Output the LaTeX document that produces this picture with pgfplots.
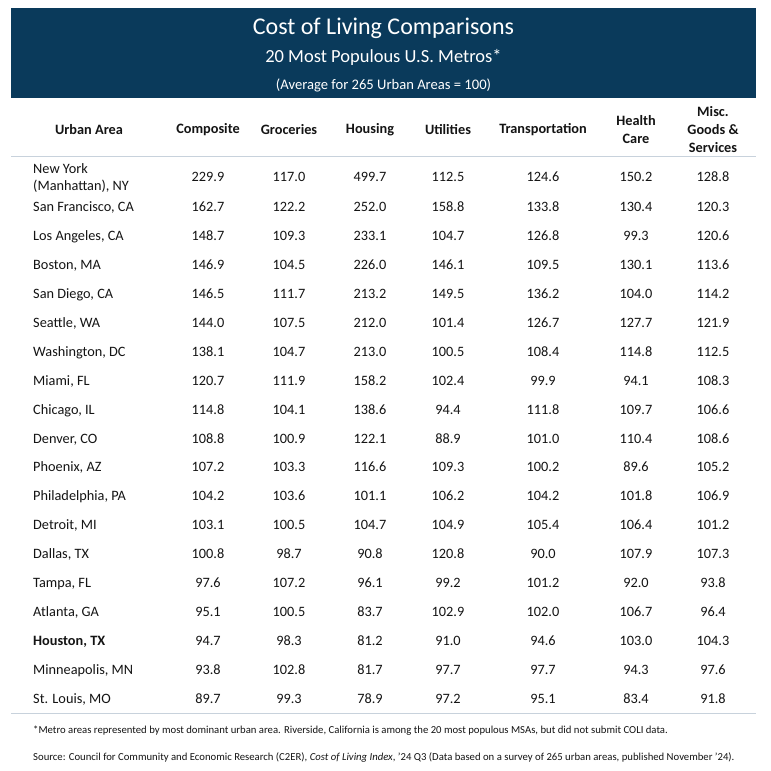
\documentclass[border=0pt]{standalone}
\usepackage{pgfplots}
\pgfplotsset{compat=1.18}
\usepackage{pgfplotstable}
\usepackage{fontspec}
\setmainfont{Carlito}
\definecolor{band}{RGB}{10,58,91}
\definecolor{rule}{RGB}{200,210,220}
\definecolor{txt}{RGB}{20,20,20}

\pgfplotstableread[col sep=semicolon]{
y;comp;groc;hous;util;trans;hc;misc
176.5;229.9;117.0;499.7;112.5;124.6;150.2;128.8
206.5;162.7;122.2;252.0;158.8;133.8;130.4;120.3
235.4;148.7;109.3;233.1;104.7;126.8;99.3;120.6
264.3;146.9;104.5;226.0;146.1;109.5;130.1;113.6
293.2;146.5;111.7;213.2;149.5;136.2;104.0;114.2
322.1;144.0;107.5;212.0;101.4;126.7;127.7;121.9
351.0;138.1;104.7;213.0;100.5;108.4;114.8;112.5
379.9;120.7;111.9;158.2;102.4;99.9;94.1;108.3
408.8;114.8;104.1;138.6;94.4;111.8;109.7;106.6
437.7;108.8;100.9;122.1;88.9;101.0;110.4;108.6
466.6;107.2;103.3;116.6;109.3;100.2;89.6;105.2
495.5;104.2;103.6;101.1;106.2;104.2;101.8;106.9
524.4;103.1;100.5;104.7;104.9;105.4;106.4;101.2
553.3;100.8;98.7;90.8;120.8;90.0;107.9;107.3
582.2;97.6;107.2;96.1;99.2;101.2;92.0;93.8
611.1;95.1;100.5;83.7;102.9;102.0;106.7;96.4
640.0;94.7;98.3;81.2;91.0;94.6;103.0;104.3
668.9;93.8;102.8;81.7;97.7;97.7;94.3;97.6
697.8;89.7;99.3;78.9;97.2;95.1;83.4;91.8
}\coldata

\begin{document}
\begin{tikzpicture}
\begin{axis}[
  width=771pt, height=771pt, scale only axis,
  xmin=0, xmax=771, ymin=0, ymax=771, y dir=reverse,
  hide axis, clip=false,
  every node near coord/.append style={anchor=mid, inner sep=0pt, text=txt, yshift=-3pt,
    font=\fontsize{14.3}{16}\selectfont},
]
\path[fill=white] (axis cs:0,0) rectangle (axis cs:771,771);
\fill[band] (axis cs:11,8) rectangle (axis cs:756,98);
\node[text=white, font=\fontsize{24}{28}\selectfont, anchor=mid] at (axis cs:383.5,32) {Cost of Living Comparisons};
\node[text=white, font=\fontsize{18.5}{21}\selectfont, anchor=mid] at (axis cs:383.5,60) {20 Most Populous U.S. Metros*};
\node[text=white, font=\fontsize{14.6}{16}\selectfont, anchor=mid] at (axis cs:383.5,87) {(Average for 265 Urban Areas = 100)};

% column headers
\begin{scope}[every node/.style={font=\fontsize{14.3}{18}\selectfont\bfseries, text=txt, align=center, inner sep=0pt, yshift=-2pt}]
\node at (axis cs:89,128) {Urban Area};
\node at (axis cs:208,128) {Composite};
\node at (axis cs:289,128) {Groceries};
\node at (axis cs:370,128) {Housing};
\node at (axis cs:448,128) {Utilities};
\node at (axis cs:543,128) {Transportation};
\node at (axis cs:636,128) {Health\\Care};
\node at (axis cs:713,128) {Misc.\\Goods \&\\Services};
\end{scope}

\draw[rule, line width=1pt] (axis cs:11,156) -- (axis cs:756,156);
\draw[rule, line width=1pt] (axis cs:11,713) -- (axis cs:756,713);

% row names
\begin{scope}[every node/.style={font=\fontsize{14.3}{17}\selectfont, text=txt, align=left, inner sep=0pt, anchor=mid west, yshift=-3pt}]
\node at (axis cs:33,168) {New York};
\node at (axis cs:33,185.5) {(Manhattan), NY};
\node at (axis cs:33,206.5) {San Francisco, CA};
\node at (axis cs:33,235.4) {Los Angeles, CA};
\node at (axis cs:33,264.3) {Boston, MA};
\node at (axis cs:33,293.2) {San Diego, CA};
\node at (axis cs:33,322.1) {Seattle, WA};
\node at (axis cs:33,351.0) {Washington, DC};
\node at (axis cs:33,379.9) {Miami, FL};
\node at (axis cs:33,408.8) {Chicago, IL};
\node at (axis cs:33,437.7) {Denver, CO};
\node at (axis cs:33,466.6) {Phoenix, AZ};
\node at (axis cs:33,495.5) {Philadelphia, PA};
\node at (axis cs:33,524.4) {Detroit, MI};
\node at (axis cs:33,553.3) {Dallas, TX};
\node at (axis cs:33,582.2) {Tampa, FL};
\node at (axis cs:33,611.1) {Atlanta, GA};
\node[font=\fontsize{14.3}{17}\selectfont\bfseries] at (axis cs:33,640.0) {Houston, TX};
\node at (axis cs:33,668.9) {Minneapolis, MN};
\node at (axis cs:33,697.8) {St. Louis, MO};
\end{scope}

% values
\addplot[draw=none, mark=none, nodes near coords, point meta=explicit symbolic] table[x expr=208, y=y, meta=comp] {\coldata};
\addplot[draw=none, mark=none, nodes near coords, point meta=explicit symbolic] table[x expr=289, y=y, meta=groc] {\coldata};
\addplot[draw=none, mark=none, nodes near coords, point meta=explicit symbolic] table[x expr=370, y=y, meta=hous] {\coldata};
\addplot[draw=none, mark=none, nodes near coords, point meta=explicit symbolic] table[x expr=448, y=y, meta=util] {\coldata};
\addplot[draw=none, mark=none, nodes near coords, point meta=explicit symbolic] table[x expr=543, y=y, meta=trans] {\coldata};
\addplot[draw=none, mark=none, nodes near coords, point meta=explicit symbolic] table[x expr=636, y=y, meta=hc] {\coldata};
\addplot[draw=none, mark=none, nodes near coords, point meta=explicit symbolic] table[x expr=713, y=y, meta=misc] {\coldata};

% footnotes
\node[font=\fontsize{10.7}{12}\selectfont, text=txt, anchor=mid west, inner sep=0pt] at (axis cs:33,731) {*Metro areas represented by most dominant urban area. Riverside, California is among the 20 most populous MSAs, but did not submit COLI data.};
\node[font=\fontsize{10.7}{12}\selectfont, text=txt, anchor=mid west, inner sep=0pt] at (axis cs:33,758) {Source: Council for Community and Economic Research (C2ER), \textit{Cost of Living Index}, ’24 Q3 (Data based on a survey of 265 urban areas, published November ’24).};
\end{axis}
\end{tikzpicture}
\end{document}
